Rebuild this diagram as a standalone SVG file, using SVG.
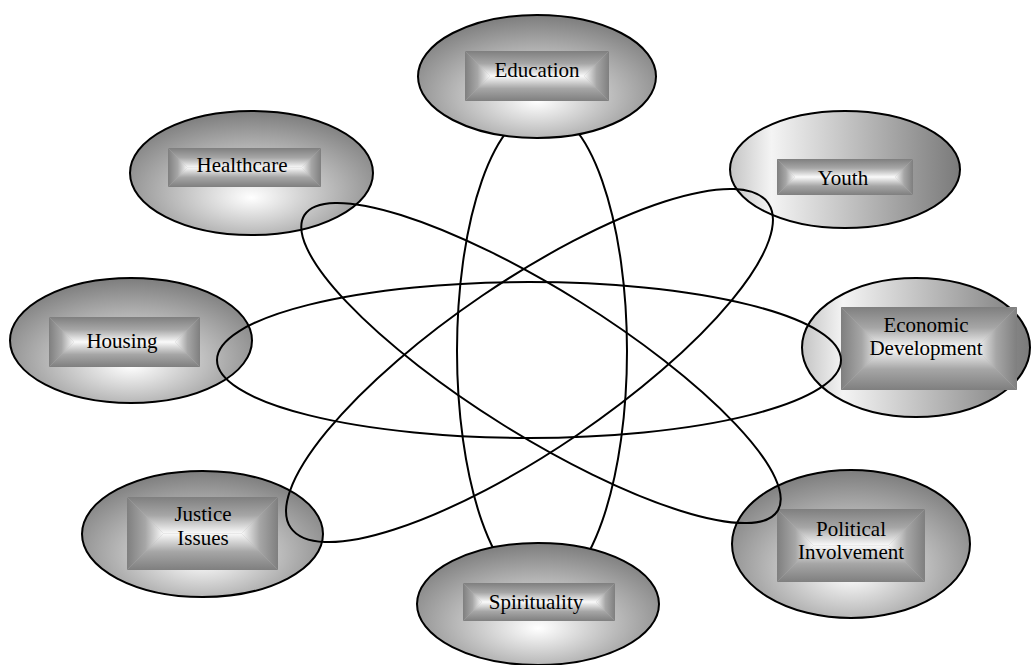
<svg xmlns="http://www.w3.org/2000/svg" width="1032" height="665" viewBox="0 0 1032 665">
<defs>
<radialGradient id="nodeRad" cx="0.5" cy="0.62" r="0.62" fx="0.5" fy="0.7">
<stop offset="0" stop-color="#ffffff"/>
<stop offset="1" stop-color="#7d7d7d"/>
</radialGradient>
<linearGradient id="nodeLin" x1="0" y1="0" x2="1" y2="0">
<stop offset="0" stop-color="#c4c4c4"/>
<stop offset="0.18" stop-color="#f4f4f4"/>
<stop offset="1" stop-color="#7a7a7a"/>
</linearGradient>
<linearGradient id="lblT" x1="0" y1="0" x2="0" y2="1">
<stop offset="0" stop-color="#7f7f7f"/>
<stop offset="0.5" stop-color="#a6a6a6"/>
<stop offset="1" stop-color="#fafafa"/>
</linearGradient>
<linearGradient id="lblB" x1="0" y1="1" x2="0" y2="0">
<stop offset="0" stop-color="#7f7f7f"/>
<stop offset="0.5" stop-color="#a6a6a6"/>
<stop offset="1" stop-color="#fafafa"/>
</linearGradient>
<linearGradient id="lblL" x1="0" y1="0" x2="1" y2="0">
<stop offset="0" stop-color="#7f7f7f"/>
<stop offset="0.5" stop-color="#a6a6a6"/>
<stop offset="1" stop-color="#fafafa"/>
</linearGradient>
<linearGradient id="lblR" x1="1" y1="0" x2="0" y2="0">
<stop offset="0" stop-color="#7f7f7f"/>
<stop offset="0.5" stop-color="#a6a6a6"/>
<stop offset="1" stop-color="#fafafa"/>
</linearGradient>
</defs>
<style>
.node{fill:url(#nodeRad);stroke:#000;stroke-width:2}
.nodeLin{fill:url(#nodeLin);stroke:#000;stroke-width:2}
.lt{fill:url(#lblT)}
.lb{fill:url(#lblB)}
.ll{fill:url(#lblL)}
.lr{fill:url(#lblR)}
.base{fill:#b4b4b4}
text{font-family:"Liberation Serif","Times New Roman",serif;font-size:21px;fill:#000;text-anchor:middle}
.loop{fill:none;stroke:#000;stroke-width:2}
</style>
<rect width="1032" height="665" fill="#fff"/>

<g id="node-healthcare">
<ellipse class="node" cx="251.5" cy="173" rx="121.5" ry="62"/>
<rect class="base" x="168" y="148" width="153" height="39"/>
<polygon class="lt" points="168,148 321,148 301.5,167.5 187.5,167.5"/>
<polygon class="lb" points="168,187 321,187 301.5,167.5 187.5,167.5"/>
<polygon class="ll" points="168,148 168,187 187.5,167.5"/>
<polygon class="lr" points="321,148 321,187 301.5,167.5"/>
<text x="242" y="172">Healthcare</text>
</g>

<g id="node-youth">
<ellipse class="nodeLin" cx="845" cy="169.5" rx="115" ry="58.5"/>
<rect class="base" x="777" y="159" width="136" height="36"/>
<polygon class="lt" points="777,159 913,159 895,177 795,177"/>
<polygon class="lb" points="777,195 913,195 895,177 795,177"/>
<polygon class="ll" points="777,159 777,195 795,177"/>
<polygon class="lr" points="913,159 913,195 895,177"/>
<text x="843" y="185">Youth</text>
</g>

<g id="node-housing">
<ellipse class="node" cx="131" cy="340.5" rx="121" ry="62.5"/>
<rect class="base" x="49" y="317" width="151" height="50"/>
<polygon class="lt" points="49,317 200,317 175,342 74,342"/>
<polygon class="lb" points="49,367 200,367 175,342 74,342"/>
<polygon class="ll" points="49,317 49,367 74,342"/>
<polygon class="lr" points="200,317 200,367 175,342"/>
<text x="122" y="348">Housing</text>
</g>

<g id="node-economic">
<ellipse class="nodeLin" cx="916" cy="347.5" rx="114" ry="69.5"/>
<rect class="base" x="841" y="307" width="176" height="83"/>
<polygon class="lt" points="841,307 1017,307 975.5,348.5 882.5,348.5"/>
<polygon class="lb" points="841,390 1017,390 975.5,348.5 882.5,348.5"/>
<polygon class="ll" points="841,307 841,390 882.5,348.5"/>
<polygon class="lr" points="1017,307 1017,390 975.5,348.5"/>
<text x="926" y="332">Economic</text>
<text x="926" y="355">Development</text>
</g>

<g id="node-justice">
<ellipse class="node" cx="202.5" cy="534" rx="120.5" ry="63"/>
<rect class="base" x="127" y="497" width="151" height="73"/>
<polygon class="lt" points="127,497 278,497 241.5,533.5 163.5,533.5"/>
<polygon class="lb" points="127,570 278,570 241.5,533.5 163.5,533.5"/>
<polygon class="ll" points="127,497 127,570 163.5,533.5"/>
<polygon class="lr" points="278,497 278,570 241.5,533.5"/>
<text x="203" y="521">Justice</text>
<text x="203" y="545">Issues</text>
</g>

<g id="node-political">
<ellipse class="node" cx="851" cy="544" rx="119" ry="74"/>
<rect class="base" x="777" y="509" width="148" height="73"/>
<polygon class="lt" points="777,509 925,509 888.5,545.5 813.5,545.5"/>
<polygon class="lb" points="777,582 925,582 888.5,545.5 813.5,545.5"/>
<polygon class="ll" points="777,509 777,582 813.5,545.5"/>
<polygon class="lr" points="925,509 925,582 888.5,545.5"/>
<text x="851" y="536">Political</text>
<text x="851" y="559">Involvement</text>
</g>

<g id="connectors">
<ellipse class="loop" cx="542" cy="351" rx="85" ry="241"/>
<ellipse class="loop" cx="529" cy="360" rx="312" ry="78"/>
<ellipse class="loop" cx="541" cy="363" rx="279" ry="72.5" transform="rotate(32 541 363)"/>
<ellipse class="loop" cx="529.5" cy="365.5" rx="288.7" ry="84.3" transform="rotate(-34.2 529.5 365.5)"/>
</g>

<g id="node-education">
<ellipse class="node" cx="537" cy="76.5" rx="119" ry="61.5"/>
<rect class="base" x="465" y="51" width="144" height="50"/>
<polygon class="lt" points="465,51 609,51 584,76 490,76"/>
<polygon class="lb" points="465,101 609,101 584,76 490,76"/>
<polygon class="ll" points="465,51 465,101 490,76"/>
<polygon class="lr" points="609,51 609,101 584,76"/>
<text x="537" y="77">Education</text>
</g>

<g id="node-spirituality">
<ellipse class="node" cx="538" cy="604" rx="121" ry="61"/>
<rect class="base" x="463" y="583" width="152" height="38"/>
<polygon class="lt" points="463,583 615,583 596,602 482,602"/>
<polygon class="lb" points="463,621 615,621 596,602 482,602"/>
<polygon class="ll" points="463,583 463,621 482,602"/>
<polygon class="lr" points="615,583 615,621 596,602"/>
<text x="536" y="609">Spirituality</text>
</g>
</svg>
